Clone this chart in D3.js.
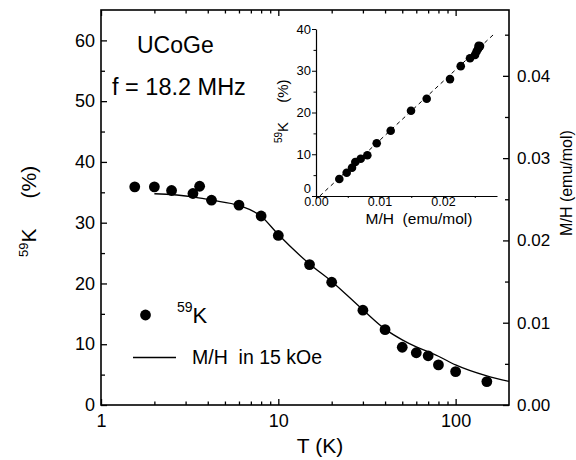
<!DOCTYPE html>
<html><head><meta charset="utf-8">
<script src="https://cdn.jsdelivr.net/npm/d3@7"></script>
<style>
body{margin:0;background:#fff}
svg{display:block}
text{font-family:"Liberation Sans",Arial,Helvetica,sans-serif;fill:#000;white-space:pre}
</style>
</head><body><svg id="c" width="576" height="460"></svg>
<script>
// ---- data ----
const tempK = [1.55, 2, 2.5, 3.3, 3.6, 4.2, 6, 8, 10, 15, 20, 30, 40, 50, 60, 70, 80, 100, 150];
const knightShift = [35.9, 35.9, 35.3, 34.8, 36.0, 33.7, 32.9, 31.1, 27.9, 23.1, 20.2, 15.6, 12.4, 9.5, 8.6, 8.1, 6.6, 5.5, 3.85];
const curveT = [2, 3.3, 4.2, 6, 8, 10, 15, 20, 30, 40, 50, 60, 70, 80, 100, 150, 200];
const curveMH = [0.02567, 0.0253, 0.02489, 0.02424, 0.02294, 0.02071, 0.01714, 0.01502, 0.01157, 0.00922, 0.00792, 0.00706, 0.00646, 0.00592, 0.00487, 0.00353, 0.00286];
const insetMH = [0.00367, 0.00483, 0.00567, 0.00619, 0.00704, 0.00808, 0.00956, 0.01176, 0.01496, 0.01743, 0.0211, 0.02279, 0.02425, 0.02504, 0.02528, 0.02551, 0.02567, 0.02583, 0.0256];
const insetK = [4.07, 5.58, 6.78, 8.14, 8.93, 9.75, 12.62, 15.64, 20.43, 23.3, 28.0, 31.1, 33.0, 33.8, 34.6, 35.2, 35.7, 35.9, 36.0];
const fitMH = [0.0006, 0.0279];
const fitK = [0, 38.6];
const xTicks = [1, 10, 100];
const xMinor = [2,3,4,5,6,7,8,9,20,30,40,50,60,70,80,90];
const yLeftTicks = [0, 10, 20, 30, 40, 50, 60];
const yLeftMinor = [5, 15, 25, 35, 45, 55];
const yRightTicks = [0, 0.01, 0.02, 0.03, 0.04];
const yRightMinor = [0.005, 0.015, 0.025, 0.035, 0.045];
const insetXTicks = [0, 0.01, 0.02];
const insetXMinor = [0.005, 0.015, 0.025];
const insetYTicks = [0, 10, 20, 30, 40];
const insetYMinor = [5, 15, 25, 35];

const svg = d3.select("#c");

// ---- main scales ----
const x = d3.scaleLog().domain([1, 200]).range([101, 509]);
const yL = d3.scaleLinear().domain([0, 65]).range([405, 10]);
const yR = d3.scaleLinear().domain([0, 0.048]).range([405, 10]);

function styleAxis(g, fs) {
  g.select(".domain").remove();
  g.selectAll(".tick line").attr("stroke", "#000").attr("stroke-width", 1.3);
  g.selectAll("text").attr("font-size", fs).style("fill", "#000");
  g.attr("font-family", null);
}

// bottom
svg.append("g").attr("transform", "translate(0,405)")
  .call(d3.axisBottom(x).tickValues(xTicks).tickSizeInner(-6).tickSizeOuter(0).tickPadding(9).tickFormat(d3.format("d")))
  .call(g => styleAxis(g, 18));
svg.append("g").attr("transform", "translate(0,405)")
  .call(d3.axisBottom(x).tickValues(xMinor).tickSizeInner(-3.5).tickSizeOuter(0).tickFormat(""))
  .call(g => styleAxis(g, 18));
// top
svg.append("g").attr("transform", "translate(0,10)")
  .call(d3.axisTop(x).tickValues(xTicks).tickSizeInner(-6).tickSizeOuter(0).tickFormat(""))
  .call(g => styleAxis(g, 18));
svg.append("g").attr("transform", "translate(0,10)")
  .call(d3.axisTop(x).tickValues(xMinor).tickSizeInner(-3.5).tickSizeOuter(0).tickFormat(""))
  .call(g => styleAxis(g, 18));
// left
svg.append("g").attr("transform", "translate(101,0)")
  .call(d3.axisLeft(yL).tickValues(yLeftTicks).tickSizeInner(-6).tickSizeOuter(0).tickPadding(6).tickFormat(d3.format("d")))
  .call(g => styleAxis(g, 18));
svg.append("g").attr("transform", "translate(101,0)")
  .call(d3.axisLeft(yL).tickValues(yLeftMinor).tickSizeInner(-4).tickSizeOuter(0).tickFormat(""))
  .call(g => styleAxis(g, 18));
// right
svg.append("g").attr("transform", "translate(509,0)")
  .call(d3.axisRight(yR).tickValues(yRightTicks).tickSizeInner(-6).tickSizeOuter(0).tickPadding(8).tickFormat(d3.format(".2f")))
  .call(g => styleAxis(g, 17));
svg.append("g").attr("transform", "translate(509,0)")
  .call(d3.axisRight(yR).tickValues(yRightMinor).tickSizeInner(-4).tickSizeOuter(0).tickFormat(""))
  .call(g => styleAxis(g, 17));

// frame
svg.append("rect").attr("x", 101).attr("y", 10).attr("width", 408).attr("height", 395)
  .attr("fill", "none").attr("stroke", "#000").attr("stroke-width", 1.6);

// curve
const curveData = curveT.map((t, i) => ({t, m: curveMH[i]}));
svg.append("path").datum(curveData)
  .attr("d", d3.line().x(d => x(d.t)).y(d => yR(d.m)).curve(d3.curveMonotoneX))
  .attr("fill", "none").attr("stroke", "#000").attr("stroke-width", 1.3);

// points
svg.append("g").selectAll("circle").data(tempK.map((t, i) => ({t, k: knightShift[i]})))
  .join("circle").attr("cx", d => x(d.t)).attr("cy", d => yL(d.k)).attr("r", 5.4).attr("fill", "#000");

// annotations
svg.append("text").attr("x", 137).attr("y", 53).attr("font-size", 23).text("UCoGe");
svg.append("text").attr("x", 112).attr("y", 95).attr("font-size", 23.5).text("f = 18.2 MHz");

// legend
svg.append("circle").attr("cx", 145.5).attr("cy", 315).attr("r", 5.4).attr("fill", "#000");
const lg = svg.append("text").attr("x", 177).attr("y", 323);
lg.append("tspan").attr("font-size", 14).attr("dy", -11).text("59");
lg.append("tspan").attr("font-size", 22).attr("dy", 11).text("K");
svg.append("line").attr("x1", 133).attr("x2", 176).attr("y1", 357.5).attr("y2", 357.5)
  .attr("stroke", "#000").attr("stroke-width", 1.3);
svg.append("text").attr("x", 192).attr("y", 364).attr("font-size", 19.5).text("M/H  in 15 kOe");

// axis titles
svg.append("text").attr("x", 320).attr("y", 453).attr("text-anchor", "middle").attr("font-size", 21).text("T (K)");
const lt = svg.append("text").attr("transform", "translate(36,257) rotate(-90)");
lt.append("tspan").attr("font-size", 13).attr("dy", -8).text("59");
lt.append("tspan").attr("font-size", 21).attr("dy", 8).text("K");
lt.append("tspan").attr("font-size", 21).attr("dx", 30).text("(%)");
svg.append("text").attr("transform", "translate(572,183) rotate(-90)").attr("text-anchor", "middle")
  .attr("font-size", 16).text("M/H (emu/mol)");

// ---- inset ----
const ix = d3.scaleLinear().domain([0, 0.0285]).range([316, 497]);
const iy = d3.scaleLinear().domain([0, 40]).range([196, 29]);

function styleInset(g) {
  g.select(".domain").attr("stroke", "#000").attr("stroke-width", 1.2);
  g.selectAll(".tick line").attr("stroke", "#000").attr("stroke-width", 1);
  g.selectAll("text").attr("font-size", 13).style("fill", "#000");
  g.attr("font-family", null);
}
svg.append("g").attr("transform", "translate(0,196)")
  .call(d3.axisBottom(ix).tickValues(insetXTicks).tickSizeInner(3).tickSizeOuter(0).tickPadding(0).tickFormat(d3.format(".2f")))
  .call(styleInset)
  .call(g => g.selectAll(".tick text").attr("y", 1.5).attr("font-size", 12.5));
svg.append("g").attr("transform", "translate(0,196)")
  .call(d3.axisBottom(ix).tickValues(insetXMinor).tickSizeInner(2).tickSizeOuter(0).tickFormat(""))
  .call(g => { styleInset(g); g.select(".domain").remove(); });
svg.append("g").attr("transform", "translate(316,0)")
  .call(d3.axisLeft(iy).tickValues(insetYTicks).tickSizeInner(4).tickSizeOuter(0).tickPadding(1).tickFormat(d3.format("d")))
  .call(styleInset)
  .call(g => g.selectAll(".tick text").filter(d => d === 0).attr("dy", "-0.25em"));
svg.append("g").attr("transform", "translate(316,0)")
  .call(d3.axisLeft(iy).tickValues(insetYMinor).tickSizeInner(2.5).tickSizeOuter(0).tickFormat(""))
  .call(g => { styleInset(g); g.select(".domain").remove(); });

// dashed fit
svg.append("path").datum(fitMH.map((m, i) => ({m, k: fitK[i]})))
  .attr("d", d3.line().x(d => ix(d.m)).y(d => iy(d.k)))
  .attr("fill", "none").attr("stroke", "#000").attr("stroke-width", 1).attr("stroke-dasharray", "4,3.5");

svg.append("g").selectAll("circle").data(insetMH.map((m, i) => ({m, k: insetK[i]})))
  .join("circle").attr("cx", d => ix(d.m)).attr("cy", d => iy(d.k)).attr("r", 4.3).attr("fill", "#000");

// inset titles
svg.append("text").attr("x", 419).attr("y", 224).attr("text-anchor", "middle").attr("font-size", 15.5).text("M/H  (emu/mol)");
const it = svg.append("text").attr("transform", "translate(288,143) rotate(-90)");
it.append("tspan").attr("font-size", 10).attr("dy", -6).text("59");
it.append("tspan").attr("font-size", 15).attr("dy", 6).text("K");
it.append("tspan").attr("font-size", 15).attr("dx", 19).text("(%)");
</script>
</body></html>
